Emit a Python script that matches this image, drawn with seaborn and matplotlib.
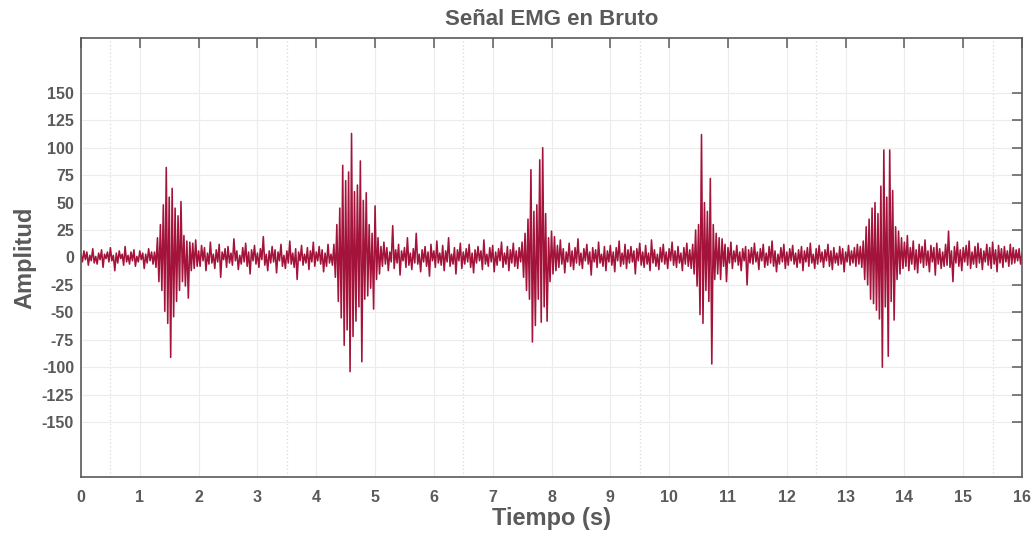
"""Señal EMG en bruto (16 s, cinco contracciones)."""
import numpy as np
import pandas as pd
import matplotlib
matplotlib.use("Agg")
import matplotlib.pyplot as plt
from matplotlib.ticker import FixedLocator
import seaborn as sns

# muestras, 40 por segundo, por tramos
fs = 40
quiet_1 = [3, -4, 6, -2, 5, -7, 2, -3, 8, -5,
           1, -6, 4, -2, 7, -9, 3, -1, 5, -4,
           9, -3, 2, -12, 4, -5, 6, -1, 3, -7,
           10, -4, 2, -6, 5, -3, 7, -8, 1, -4,
           6, -2, 4, -10, 3, -5, 8, -3, 5, -6]
burst_1 = [5, -9, 18, -22, 30, -30, 48, -49, 82, -60,
           55, -91, 63, -54, 45, -40, 38, -30, 51, -22,
           20, -26, 15, -37, 14, -12, 13, -10, 16, -8]
quiet_2 = [6, -8, 11, -3, 9, -12, 4, -6, 14, -5,
           3, -10, 7, -4, 12, -18, 5, -2, 8, -9,
           10, -5, 4, -7, 17, -3, 6, -11, 2, -6,
           9, -4, 13, -8, 5, -15, 7, -3, 11, -6,
           4, -9, 8, -2, 19, -7, 3, -12, 6, -5,
           10, -4, 7, -14, 5, -3, 12, -8, 2, -10,
           6, -5, 15, -6, 4, -9, 8, -20, 5, -3,
           11, -7, 3, -5, 9, -11, 6, -4, 14, -8,
           5, -3, 10, -6, 7, -13, 4, -8, 12, -5,
           3, -7]
burst_2 = [12, -18, 30, -40, 45, -55, 84, -80, 70, -66,
           78, -104, 113, -72, 60, -58, 66, -45, 88, -95,
           52, -38, 59, -35, 30, -28, 22, -47, 47, -20,
           18, -15]
quiet_3 = [10, -8, 14, -6, 9, -12, 5, -4, 29, -10,
           7, -5, 12, -16, 6, -3, 9, -9, 18, -7,
           4, -11, 8, -5, 22, -6, 3, -13, 7, -4,
           10, -8, 5, -17, 12, -3, 6, -9, 15, -5,
           4, -7, 11, -12, 6, -4, 18, -8, 3, -6,
           9, -15, 7, -3, 13, -10, 5, -6, 8, -4,
           12, -9, 4, -14, 7, -5, 10, -3, 6, -11,
           16, -6, 3, -8, 9, -4, 11, -13, 5, -7,
           8, -3, 14, -9, 4, -6, 10, -12, 7, -5,
           13, -8, 6, -10, 9, -4]
burst_3 = [14, -18, 22, -30, 35, -38, 80, -77, 42, -62,
           48, -38, 89, -59, 100, -45, 40, -58, 18, -22,
           24, -15, 19, -12]
quiet_4 = [11, -9, 16, -6, 8, -14, 5, -4, 13, -8,
           6, -11, 9, -5, 17, -7, 4, -10, 8, -3,
           12, -6, 5, -16, 9, -4, 7, -9, 14, -5,
           3, -8, 10, -12, 6, -4, 11, -7, 5, -13,
           9, -3, 15, -8, 4, -6, 12, -10, 7, -5,
           10, -4, 6, -15, 8, -3, 13, -7, 5, -9,
           11, -6, 4, -12, 16, -5, 7, -8, 3, -11,
           9, -4, 12, -6, 5, -10, 8, -3, 14, -7,
           6, -9, 10, -5, 4, -12, 9, -6, 13, -8,
           7, -10]
burst_4 = [12, -15, 25, -26, 30, -52, 112, -60, 50, -30,
           42, -40, 72, -97, 30, -20, 22, -15, 18, -20]
quiet_5 = [17, -8, 12, -22, 9, -5, 14, -10, 6, -4,
           11, -7, 5, -12, 8, -3, 10, -25, 7, -5,
           9, -6, 13, -4, 5, -11, 8, -3, 12, -9,
           4, -7, 10, -5, 15, -8, 6, -13, 3, -6,
           9, -4, 12, -10, 5, -7, 8, -3, 11, -6,
           4, -9, 7, -5, 10, -12, 6, -4, 9, -8,
           13, -5, 3, -10, 8, -6, 11, -4, 5, -9,
           7, -3, 12, -8, 6, -11, 9, -5, 4, -7,
           10, -6, 8, -13, 5, -4, 11, -7, 6, -5,
           9, -8, 12, -6, 10, -9]
burst_5 = [15, -20, 28, -25, 35, -38, 45, -42, 50, -48,
           40, -56, 65, -100, 98, -45, 55, -90, 98, -40,
           61, -57, 28, -20, 24, -15]
quiet_6 = [18, -10, 14, -8, 20, -12, 9, -6, 15, -11,
           7, -14, 12, -5, 10, -9, 16, -7, 6, -13,
           11, -4, 9, -16, 13, -6, 8, -10, 5, -8,
           12, -7, 24, -9, 6, -22, 10, -5, 14, -8,
           7, -12, 9, -4, 11, -7, 15, -10, 5, -6,
           10, -9, 13, -5, 8, -11, 6, -4, 12, -7,
           9, -10, 14, -6, 7, -13, 11, -5, 8, -9,
           10, -4, 6, -8, 12, -6, 9, -5, 7, -3,
           8, -6, 4]

x_ticks = list(range(0, 17))
y_ticks = [-150, -125, -100, -75, -50, -25, 0, 25, 50, 75, 100, 125, 150]

segments = [quiet_1, burst_1, quiet_2, burst_2, quiet_3, burst_3,
            quiet_4, burst_4, quiet_5, burst_5, quiet_6]
signal = np.concatenate([np.asarray(s, dtype=float) for s in segments])
df = pd.DataFrame({"t": np.arange(len(signal)) / fs, "amp": signal})

sns.set_style("white")
plt.rcParams["font.family"] = ["Liberation Sans", "DejaVu Sans"]
plt.rcParams["axes.unicode_minus"] = False

gray = "#5a5a5a"
fig = plt.figure(figsize=(10.33, 5.35), dpi=100)
ax = fig.add_axes([0.0784, 0.1084, 0.9110, 0.8206])

sns.lineplot(data=df, x="t", y="amp", ax=ax, color="#A3133A",
             linewidth=1.15, estimator=None, sort=False)

ax.set_xlim(0, 16)
ax.set_ylim(-200, 200)
ax.set_xticks(x_ticks)
ax.set_yticks(y_ticks)
ax.xaxis.set_minor_locator(FixedLocator(np.arange(0.5, 16, 3)))

ax.grid(True, which="major", color="#ececec", linewidth=0.8, linestyle="-")
ax.grid(True, which="minor", axis="x", color="#dadada", linewidth=0.9,
        linestyle=(0, (1, 2)))
ax.set_axisbelow(True)

ax.tick_params(which="major", direction="in", length=7, width=1.1,
               color=gray, top=True, right=True, labelsize=11.5,
               labelcolor=gray)
ax.tick_params(axis="x", which="major", pad=9)
ax.tick_params(axis="y", which="major", pad=5)
ax.tick_params(which="minor", length=0)
for lab in ax.get_xticklabels() + ax.get_yticklabels():
    lab.set_fontweight("bold")

for sp in ax.spines.values():
    sp.set_visible(True)
    sp.set_color(gray)
    sp.set_linewidth(1.2)

ax.set_title("Señal EMG en Bruto", fontsize=16, fontweight="bold",
             color=gray, pad=9)
ax.set_xlabel("Tiempo (s)", fontsize=17, fontweight="bold", color=gray,
              labelpad=2)
ax.set_ylabel("Amplitud", fontsize=17, fontweight="bold", color=gray,
              labelpad=4)

fig.savefig("out.png", dpi=100)
plt.close(fig)
